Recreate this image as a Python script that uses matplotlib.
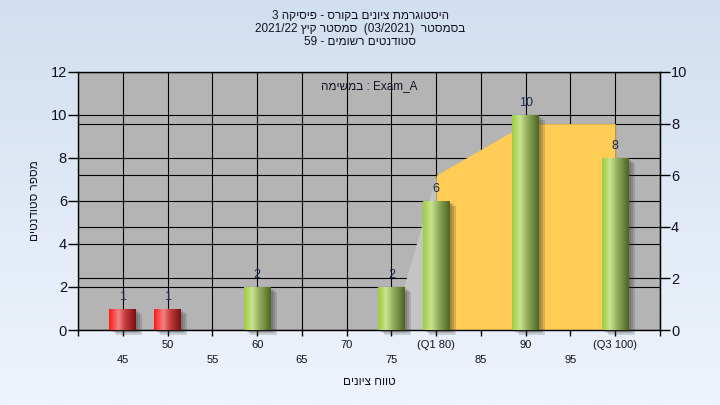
import numpy as np
import matplotlib.pyplot as plt
from matplotlib.colors import LinearSegmentedColormap
from matplotlib import patheffects as pe

plt.rcParams['font.family'] = ['Liberation Sans', 'DejaVu Sans']

# grade bins and number of students in each
grades = ['45', '50', '55', '60', '65', '70', '75', '(Q1 80)', '85', '90', '95', '(Q3 100)']
grade_values = [45, 50, 55, 60, 65, 70, 75, 80, 85, 90, 95, 100]
counts = [1, 1, 0, 2, 0, 0, 2, 6, 0, 10, 0, 8]
pass_mark = 55

# quartile area (right axis), from 75 up to Q3
area_grades = ['75', '(Q1 80)', '85', '90', '95', '(Q3 100)']
area_vals = [0, 6, 7, 8, 8, 8]

left_max, right_max = 12, 10

# Hebrew strings are stored in visual (left-to-right) order
title_lines = ['3 הקיסיפ - סרוקב םינויצ תמרגוטסיה',
               '2021/22 ץיק רטסמס  (03/2021)  רטסמסב',
               '59 - םימושר םיטנדוטס']
task_label = 'המישמב : Exam_A'
ylabel = 'םיטנדוטס רפסמ'
xlabel = 'םינויצ חווט'

text_col = '#111122'

fig = plt.figure(figsize=(7.2, 4.05), dpi=100)

# background gradient
bg = fig.add_axes([0, 0, 1, 1], zorder=-1)
grad = np.linspace(0, 1, 256).reshape(-1, 1)
bg_cmap = LinearSegmentedColormap.from_list('bg', ['#d2dff0', '#eef4fc'])
bg.imshow(grad, aspect='auto', cmap=bg_cmap, extent=(0, 1, 0, 1))
bg.axis('off')

ax = fig.add_axes([78 / 720, 1 - 330 / 405, 582 / 720, 258 / 405])
ax.set_facecolor('#b4b4b4')

pos = np.arange(1, len(grades) + 1)


def r2l(v):
    return np.asarray(v) * left_max / right_max


def l2r(v):
    return np.asarray(v) * right_max / left_max


# grid
ax.set_axisbelow(True)
ax.grid(True, color='black', lw=0.8)
for t in range(0, right_max + 1, 2):
    ax.axhline(r2l(t), color='black', lw=0.8, zorder=0.6)

# quartile area
a_pos = np.array([pos[grades.index(g)] for g in area_grades])
a_vals = r2l(area_vals)
q1 = area_grades.index('(Q1 80)')
ax.fill_between(a_pos[:q1 + 1], 0, a_vals[:q1 + 1], color='#c4c4c4', lw=0, zorder=1)
ax.fill_between(a_pos[q1:], 0, a_vals[q1:], color='#ffcc55', lw=0, zorder=1)

# cylinder-like bars
red_cmap = LinearSegmentedColormap.from_list(
    'red', [(0, '#ff1818'), (0.35, '#f08484'), (0.6, '#c83c3c'), (1, '#781010')])
green_cmap = LinearSegmentedColormap.from_list(
    'green', [(0, '#9ccc3c'), (0.3, '#c8e290'), (0.6, '#8ea85a'), (1, '#4c6620')])
hgrad = np.linspace(0, 1, 128).reshape(1, -1)

# soft shadow: a few stacked offsets
shadow = [pe.SimplePatchShadow(offset=(o, -o * 0.8), shadow_rgbFace='#303030', alpha=0.18)
          for o in (1.5, 3, 4.5)]

colors = ['#e03030' if g < pass_mark else '#90b048' for g in grade_values]
bars = ax.bar(pos, counts, width=0.6, color=colors, zorder=3, clip_on=False,
              path_effects=shadow + [pe.Normal()])
for b, g, c in zip(bars, grade_values, counts):
    if c == 0:
        continue
    cm = red_cmap if g < pass_mark else green_cmap
    im = ax.imshow(hgrad, aspect='auto', cmap=cm, zorder=3.1,
                   extent=(b.get_x(), b.get_x() + b.get_width(), 0, b.get_height()))
    im.set_clip_path(b)
    ax.annotate(str(c), (b.get_x() + b.get_width() / 2, c), xytext=(0, 4),
                textcoords='offset points', ha='center', va='bottom',
                fontsize=9, color='#1a2a50')

ax.set_xlim(0, len(grades) + 1)
ax.set_ylim(0, left_max)

# x ticks: two staggered rows
ax.set_xticks(np.arange(0, len(grades) + 2))
xt = [''] + [g if i % 2 else '\n' + g for i, g in enumerate(grades)] + ['']
ax.set_xticklabels(xt, fontsize=8, color=text_col, linespacing=1.6)
ax.tick_params(axis='x', length=4, width=1, pad=3)
ax.set_yticks(range(0, left_max + 1, 2))
ax.tick_params(axis='y', length=7, width=1, labelsize=10.5, labelcolor=text_col, pad=1)

sec = ax.secondary_yaxis('right', functions=(l2r, r2l))
sec.set_yticks(range(0, right_max + 1, 2))
sec.tick_params(length=7, width=1, labelsize=10.5, labelcolor=text_col, pad=1)

for s in ax.spines.values():
    s.set_color('black')
    s.set_linewidth(1)

ax.set_ylabel(ylabel, fontsize=8.5, color=text_col, va='center')
ax.yaxis.set_label_coords(-0.074, 0.5)
ax.set_xlabel(xlabel, fontsize=8.5, color=text_col)
ax.xaxis.set_label_coords(0.5, -0.2)
ax.xaxis.label.set_va('center')

ax.text(0.5, 0.945, task_label, transform=ax.transAxes, ha='center', va='center',
        fontsize=8.5, color=text_col)

fig.text(0.5, 1 - 10 / 405, '\n'.join(title_lines), ha='center', va='top',
         fontsize=8.5, color=text_col, linespacing=1.12)

fig.savefig('out.png', dpi=100)
